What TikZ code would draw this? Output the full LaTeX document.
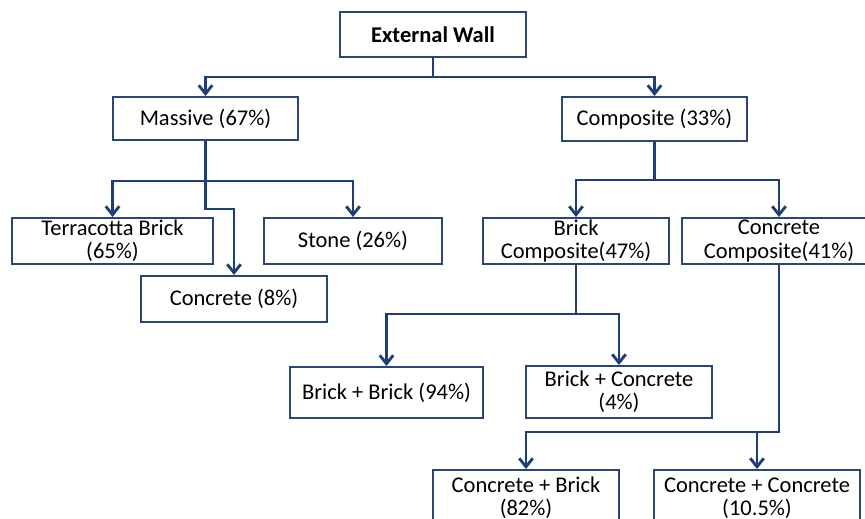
\documentclass[tikz,border=0pt]{standalone}
\usepackage{fontspec}
\setmainfont{Carlito}
\usetikzlibrary{arrows.meta}
\definecolor{linkblue}{RGB}{30,62,120}
\definecolor{boxblue}{RGB}{42,70,118}

\begin{document}
\begin{tikzpicture}[
    x=0.02cm, y=-0.02cm,
    >={Straight Barb[length=1.7mm,width=2.7mm]},
    box/.style={draw=boxblue, line width=1.1pt, fill=white, align=center, inner sep=0pt,
                minimum height=0.92cm, font=\fontsize{12.8}{13.2}\selectfont},
    link/.style={->, draw=linkblue, line width=1.6pt}
]
    \clip (0,0) rectangle (865,519);

    \node[box, minimum width=3.72cm, minimum height=0.9cm, font=\fontsize{12.8}{13.2}\selectfont\bfseries]
                                           (wall)      at (433,34.5) {External Wall};
    \node[box, minimum width=3.7cm,  minimum height=0.86cm] (massive)   at (205.5,118.5) {Massive (67\%)};
    \node[box, minimum width=3.7cm,  minimum height=0.88cm] (composite) at (654.5,119)   {Composite (33\%)};
    \node[box, minimum width=4.02cm] (terra)    at (112.5,241) {Terracotta Brick\\(65\%)};
    \node[box, minimum width=3.56cm] (stone)    at (353,241)   {Stone (26\%)};
    \node[box, minimum width=3.72cm] (concrete) at (234,299)   {Concrete (8\%)};
    \node[box, minimum width=3.72cm] (bcomp)    at (576,241)   {Brick\\Composite(47\%)};
    \node[box, minimum width=3.88cm] (ccomp)    at (779,241)   {Concrete\\Composite(41\%)};
    \node[box, minimum width=3.86cm, minimum height=1.02cm] (bb) at (386.5,392.5) {Brick + Brick (94\%)};
    \node[box, minimum width=3.72cm, minimum height=1.04cm] (bc) at (619,392)     {Brick + Concrete\\(4\%)};
    \node[box, minimum width=3.72cm, minimum height=1.12cm] (cb) at (526,498)     {Concrete + Brick\\(82\%)};
    \node[box, minimum width=4.12cm, minimum height=1.12cm] (cc) at (757,498)     {Concrete + Concrete\\(10.5\%)};

    % first level
    \draw[link] (wall.south) -- ++(0,19) -| (massive.north);
    \draw[link] (wall.south) -- ++(0,19) -| (composite.north);

    % massive walls
    \draw[link] (massive.south) -- ++(0,40) -| (terra.north);
    \draw[link] (massive.south) -- ++(0,40) -| (stone.north);
    \draw[link] (massive.south) -- ++(0,68) -| (concrete.north);

    % composite walls
    \draw[link] (composite.south) -- ++(0,38) -| (bcomp.north);
    \draw[link] (composite.south) -- ++(0,38) -| (ccomp.north);

    \draw[link] (bcomp.south) -- ++(0,49) -| (bb.north);
    \draw[link] (bcomp.south) -- ++(0,49) -| (bc.north);

    \draw[link] (ccomp.south) -- ++(0,167) coordinate (csplit) -| (cb.north);
    \draw[link] (cc.north |- csplit) -- (cc.north);
\end{tikzpicture}
\end{document}
